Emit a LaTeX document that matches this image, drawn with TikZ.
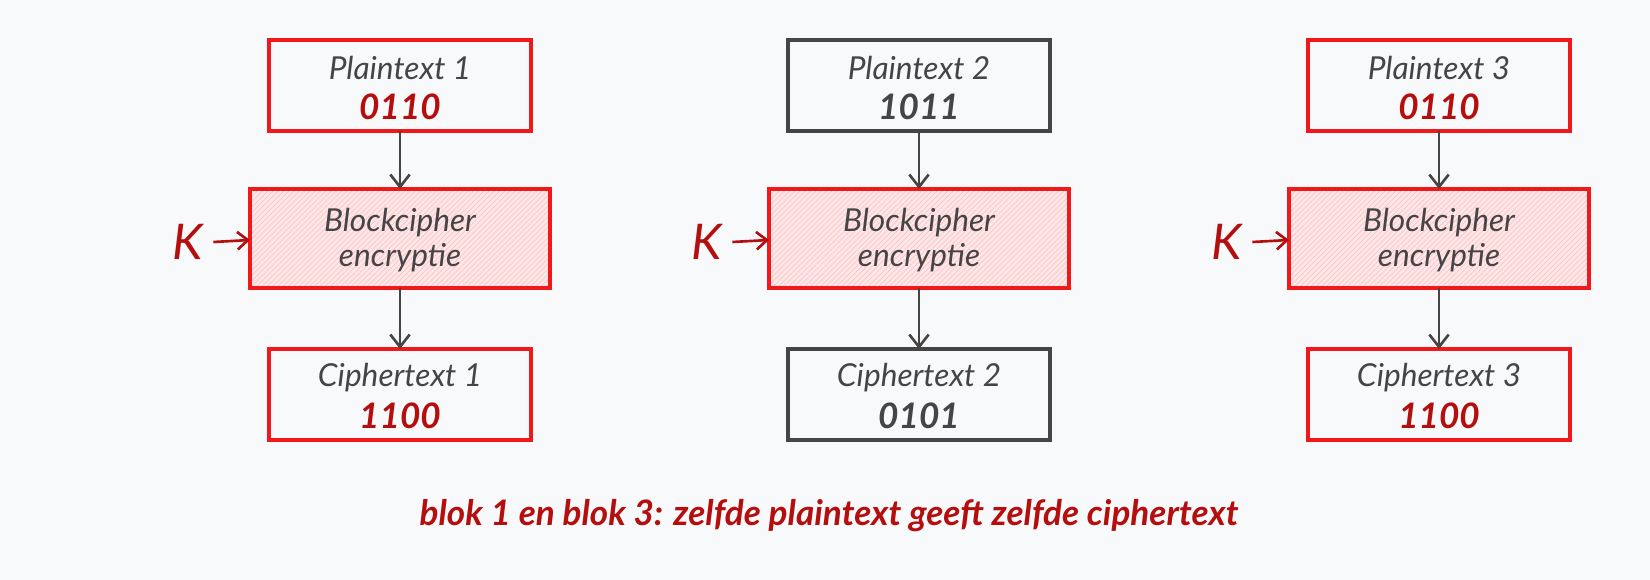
\documentclass[tikz,border=0pt]{standalone}
\usepackage{fontspec}
\setmainfont{Lato}
\usetikzlibrary{arrows.meta,patterns}
\definecolor{bg}{HTML}{F8F9FB}
\definecolor{rd}{HTML}{F01818}
\definecolor{drd}{HTML}{B50E0E}
\definecolor{gr}{HTML}{454545}
\definecolor{pk}{HTML}{FFE6E8}
\begin{document}
\begin{tikzpicture}[x=0.02cm,y=-0.02cm,
  box/.style={draw=#1,line width=1.8pt,inner sep=0pt},
  lab/.style={font=\itshape\fontsize{18}{22}\selectfont,text=gr},
  num/.style={font=\bfseries\itshape\fontsize{20}{24}\selectfont},
  arr/.style={draw=gr,line width=1.5pt,-{Straight Barb[length=7pt,width=11pt]}},
  karr/.style={draw=drd,line width=1.5pt,-{Straight Barb[length=6pt,width=10pt]}}]
\fill[bg] (0,0) rectangle (1650,580);
\useasboundingbox (0,0) rectangle (1650,580);
\foreach \i/\cx/\pc/\pn/\nc/\cc/\cn in {1/400/rd/0110/drd/rd/1100, 2/919/gr/1011/gr/gr/0101, 3/1439/rd/0110/drd/rd/1100}{
  \path[box=\pc] (\cx-131,40) rectangle (\cx+131,131);
  \coordinate (pt\i) at (\cx,131);
  \node[lab] at (\cx,68) {Plaintext \i};
  \node[num,text=\nc] at (\cx,107) {\pn};
  \fill[pk] (\cx-150,189) rectangle (\cx+150,288);
  \path[pattern=north east lines,pattern color=rd!25] (\cx-150,189) rectangle (\cx+150,288);
  \path[box=rd] (\cx-150,189) rectangle (\cx+150,288);
  \coordinate (bt\i) at (\cx,189);
  \coordinate (bb\i) at (\cx,288);
  \coordinate (bl\i) at (\cx-150,240);
  \node[lab,align=center] (b\i) at (\cx,240) {Blockcipher\\[-2pt]encryptie};
  \path[box=\cc] (\cx-131,349) rectangle (\cx+131,440);
  \coordinate (ct\i) at (\cx,349);
  \node[lab] at (\cx,378) {Ciphertext \i};
  \node[num,text=\nc] at (\cx,416) {\cn};
  \draw[arr] (pt\i) -- (bt\i);
  \draw[arr] (bb\i) -- (ct\i);
  \node[font=\itshape\fontsize{28}{30}\selectfont,text=drd] (k\i) at (\cx-212,242) {K};
  \draw[karr] (k\i.east) ++(4,0) -- (bl\i);
}
\node[num,text=drd] (t) at (829,516) {blok 1 en blok 3: zelfde plaintext geeft zelfde ciphertext};
\end{tikzpicture}
\end{document}
